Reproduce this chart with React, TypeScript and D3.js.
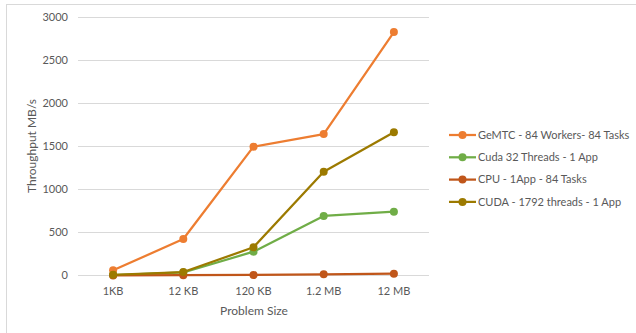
import React from "react";
import * as d3 from "d3";

const categories = ["1KB", "12 KB", "120 KB", "1.2 MB", "12 MB"];
const seriesNames = [
  "GeMTC - 84 Workers- 84 Tasks",
  "Cuda 32 Threads - 1 App",
  "CPU - 1App - 84 Tasks",
  "CUDA - 1792 threads - 1 App",
];
const gemtc = [60, 424, 1498, 1645, 2831];
const cuda32 = [5, 35, 277, 692, 742];
const cpu = [1, 3, 6, 14, 21];
const cuda1792 = [8, 40, 328, 1207, 1665];
const colors = ["#ED7D31", "#70AD47", "#C0561A", "#9C7A00"];
const yTicks = [0, 500, 1000, 1500, 2000, 2500, 3000];

const W = 636;
const H = 333;
const font = "Lato, 'Open Sans', sans-serif";
const textColor = "#595959";

export default function App() {
  const x = d3.scaleBand<string>().domain(categories).range([78, 429]);
  const y = d3.scaleLinear().domain([0, 3000]).range([275.5, 17.5]);
  const line = d3
    .line<number>()
    .x((_, i) => (x(categories[i]) as number) + x.bandwidth() / 2)
    .y((d) => y(d));
  const series = [gemtc, cuda32, cpu, cuda1792];
  // draw order: legend order, with the later series painted on top
  return (
    <svg
      width={W}
      height={H}
      style={{ position: "absolute", left: 0, top: 0, background: "#fff" }}
    >
      <rect x={6.5} y={4.5} width={W} height={H} fill="#fff" stroke="#D9D9D9" />
      {yTicks.map((t) => (
        <g key={t}>
          <line x1={78} x2={429} y1={y(t)} y2={y(t)} stroke="#D9D9D9" strokeWidth={1} />
          <text
            x={68}
            y={y(t)}
            dy="0.35em"
            textAnchor="end"
            fontFamily={font}
            fontSize={11}
            fill={textColor}
          >
            {t}
          </text>
        </g>
      ))}
      {categories.map((c) => (
        <text
          key={c}
          x={(x(c) as number) + x.bandwidth() / 2}
          y={291}
          dy="0.35em"
          textAnchor="middle"
          fontFamily={font}
          fontSize={11}
          fill={textColor}
        >
          {c}
        </text>
      ))}
      <text
        x={254}
        y={311}
        dy="0.35em"
        textAnchor="middle"
        fontFamily={font}
        fontSize={12}
        fill={textColor}
      >
        Problem Size
      </text>
      <text
        transform={`translate(32,146) rotate(-90)`}
        dy="0.35em"
        textAnchor="middle"
        fontFamily={font}
        fontSize={12}
        fill={textColor}
      >
        Throughput MB/s
      </text>
      {series.map((s, si) => (
        <g key={si}>
          <path d={line(s) as string} fill="none" stroke={colors[si]} strokeWidth={2.25} strokeLinejoin="round" />
          {s.map((v, i) => (
            <circle
              key={i}
              cx={(x(categories[i]) as number) + x.bandwidth() / 2}
              cy={y(v)}
              r={4}
              fill={colors[si]}
            />
          ))}
        </g>
      ))}
      {seriesNames.map((n, i) => {
        const ly = 135 + i * 22.3;
        return (
          <g key={n}>
            <line x1={449} x2={476} y1={ly} y2={ly} stroke={colors[i]} strokeWidth={2.25} />
            <circle cx={462.5} cy={ly} r={4} fill={colors[i]} />
            <text
              x={478}
              y={ly}
              dy="0.35em"
              fontFamily={font}
              fontSize={11}
              fill={textColor}
            >
              {n}
            </text>
          </g>
        );
      })}
    </svg>
  );
}
